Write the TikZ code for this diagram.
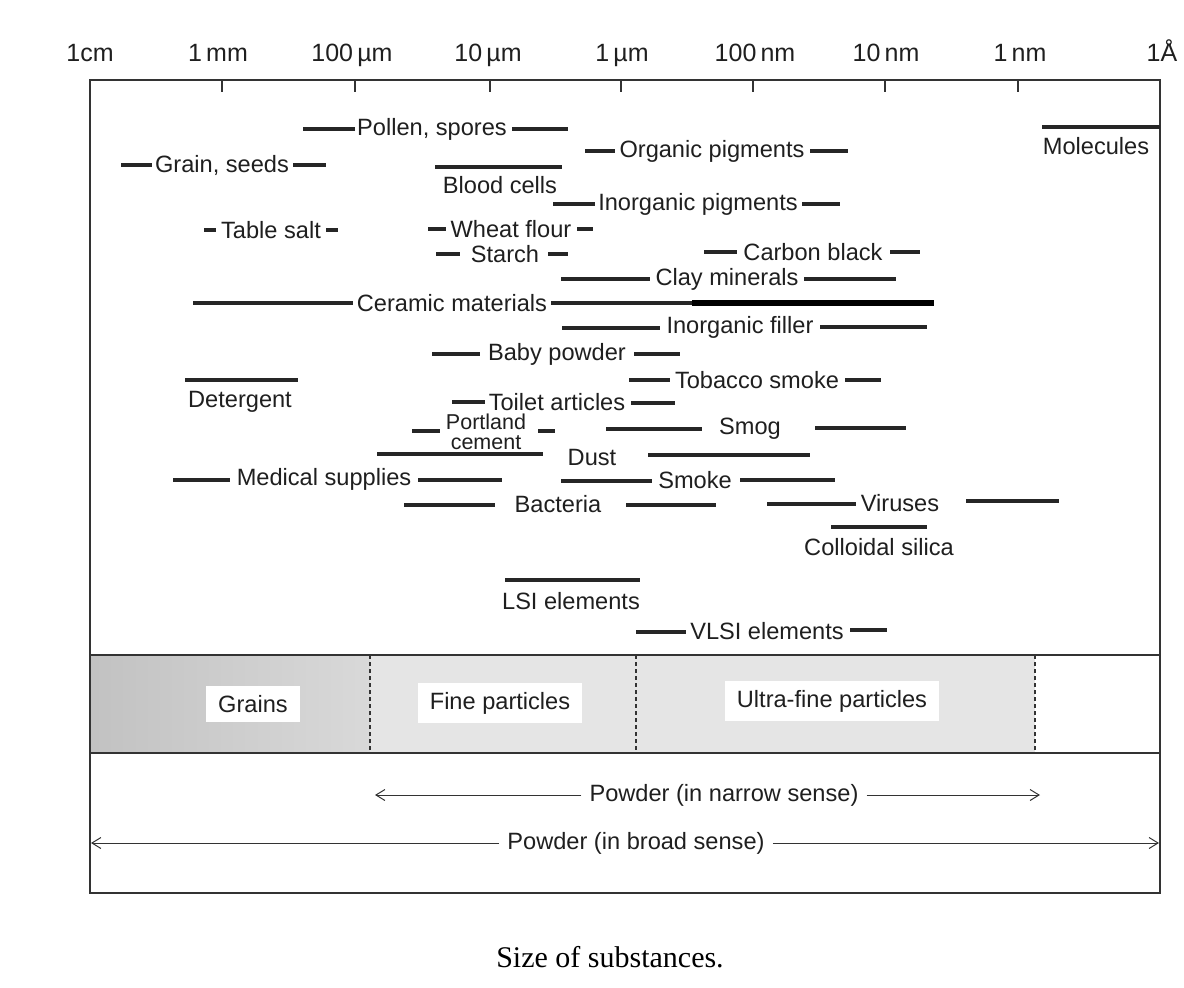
\documentclass[tikz,border=0pt]{standalone}
\usepackage{fontspec}
\usetikzlibrary{arrows.meta}
\setmainfont{Liberation Sans}
\newfontfamily\captionfont{Liberation Serif}

\begin{document}
		\begin{tikzpicture}[x=1pt,y=-1pt,
				itemtext/.style={font=\fontsize{23.6}{24}\selectfont,inner sep=0pt,text=black!88},
				scaletext/.style={font=\fontsize{25}{26}\selectfont,inner sep=0pt,anchor=base,text=black!88},
				sizebar/.style={line width=3.3pt,black!85},
				thickbar/.style={line width=5.5pt,black},
				frameline/.style={line width=1.3pt,black!80},
				classbox/.style={font=\fontsize{23.6}{24}\selectfont,fill=white,inner xsep=12pt,inner ysep=9pt,text=black!88},
				divider/.style={line width=1.8pt,dash pattern=on 4pt off 3pt,black!80},
				rangearrow/.style={line width=1pt,black!80,-{Straight Barb[length=9pt,width=11pt]}}]
			\useasboundingbox (0,0) rectangle (1184,988);
			\fill[white] (0,0) rectangle (1184,988);

			% scale
			\node[scaletext] (s0) at (90,61) {1cm};
			\node[scaletext] (s1) at (218,61) {1\,mm};
			\node[scaletext] (s2) at (352,61) {100\,µm};
			\node[scaletext] (s3) at (488,61) {10\,µm};
			\node[scaletext] (s4) at (622,61) {1\,µm};
			\node[scaletext] (s5) at (755,61) {100\,nm};
			\node[scaletext] (s6) at (886,61) {10\,nm};
			\node[scaletext] (s7) at (1020,61) {1\,nm};
			\node[scaletext] (s8) at (1162,61) {1Å};
			\foreach \tx in {222,355,490,621,753,885,1018}
				\draw[frameline] (\tx,80) -- (\tx,92);

			% band of classes
			\shade[left color=gray!48,right color=gray!30] (90,655) rectangle (370,753);
			\fill[gray!20] (370,655) rectangle (1035,753);
			\draw[divider] (370,655) -- (370,753);
			\draw[divider] (636,655) -- (636,753);
			\draw[divider] (1035,655) -- (1035,753);
			\node[classbox] (grains) at (253,704) {Grains};
			\node[classbox] (fine) at (500,703) {Fine particles};
			\node[classbox] (ultrafine) at (832,701) {Ultra-fine particles};

			% frame
			\draw[frameline] (90,80) rectangle (1160,893);
			\draw[frameline] (90,655) -- (1160,655);
			\draw[frameline] (90,753) -- (1160,753);

			% substances
			\node[itemtext] (pollen) at (432,129) {Pollen, spores};
			\draw[sizebar] (303,129) -- (355,129);
			\draw[sizebar] (512,129) -- (568,129);

			\node[itemtext] (molecules) at (1096,146) {Molecules};
			\draw[sizebar] (1042,127) -- (1160,127);

			\node[itemtext] (grain) at (222,165) {Grain, seeds};
			\draw[sizebar] (121,165) -- (152,165);
			\draw[sizebar] (293,165) -- (326,165);

			\node[itemtext] (orgpig) at (712,151) {Organic pigments};
			\draw[sizebar] (585,151) -- (615,151);
			\draw[sizebar] (810,151) -- (848,151);

			\node[itemtext] (blood) at (500,185) {Blood cells};
			\draw[sizebar] (435,167) -- (562,167);

			\node[itemtext] (inorgpig) at (698,204) {Inorganic pigments};
			\draw[sizebar] (553,204) -- (595,204);
			\draw[sizebar] (802,204) -- (840,204);

			\node[itemtext] (salt) at (271,230) {Table salt};
			\draw[sizebar] (204,230) -- (216,230);
			\draw[sizebar] (326,230) -- (338,230);

			\node[itemtext] (wheat) at (511,229) {Wheat flour};
			\draw[sizebar] (428,229) -- (446,229);
			\draw[sizebar] (577,229) -- (593,229);

			\node[itemtext] (starch) at (505,254) {Starch};
			\draw[sizebar] (436,254) -- (460,254);
			\draw[sizebar] (548,254) -- (568,254);

			\node[itemtext] (carbon) at (813,252) {Carbon black};
			\draw[sizebar] (704,252) -- (737,252);
			\draw[sizebar] (890,252) -- (920,252);

			\node[itemtext] (clay) at (727,279) {Clay minerals};
			\draw[sizebar] (561,279) -- (650,279);
			\draw[sizebar] (804,279) -- (896,279);

			\node[itemtext] (ceramic) at (452,303) {Ceramic materials};
			\draw[sizebar] (193,303) -- (353,303);
			\draw[sizebar] (551,303) -- (692,303);
			\draw[thickbar] (692,303) -- (934,303);

			\node[itemtext] (filler) at (740,327) {Inorganic filler};
			\draw[sizebar] (562,328) -- (660,328);
			\draw[sizebar] (820,327) -- (927,327);

			\node[itemtext] (baby) at (557,354) {Baby powder};
			\draw[sizebar] (432,354) -- (480,354);
			\draw[sizebar] (634,354) -- (680,354);

			\node[itemtext] (tobacco) at (757,380) {Tobacco smoke};
			\draw[sizebar] (629,380) -- (670,380);
			\draw[sizebar] (845,380) -- (881,380);

			\node[itemtext] (detergent) at (240,402) {Detergent};
			\draw[sizebar] (185,380) -- (298,380);

			\node[itemtext] (toilet) at (557,402) {Toilet articles};
			\draw[sizebar] (452,402) -- (485,402);
			\draw[sizebar] (631,403) -- (675,403);

			\node[itemtext,align=center,font=\fontsize{21.5}{20}\selectfont] (portland) at (486,432) {Portland\\cement};
			\draw[sizebar] (412,431) -- (440,431);
			\draw[sizebar] (538,431) -- (555,431);

			\node[itemtext] (smog) at (750,429) {Smog};
			\draw[sizebar] (606,429) -- (702,429);
			\draw[sizebar] (815,428) -- (906,428);

			\node[itemtext] (dust) at (592,457) {Dust};
			\draw[sizebar] (377,454) -- (543,454);
			\draw[sizebar] (648,455) -- (810,455);

			\node[itemtext] (medical) at (324,479) {Medical supplies};
			\draw[sizebar] (173,480) -- (230,480);
			\draw[sizebar] (418,480) -- (502,480);

			\node[itemtext] (smoke) at (695,480) {Smoke};
			\draw[sizebar] (561,481) -- (652,481);
			\draw[sizebar] (740,480) -- (835,480);

			\node[itemtext] (bacteria) at (558,504) {Bacteria};
			\draw[sizebar] (404,505) -- (495,505);
			\draw[sizebar] (626,505) -- (716,505);

			\node[itemtext] (viruses) at (900,503) {Viruses};
			\draw[sizebar] (767,504) -- (856,504);
			\draw[sizebar] (966,501) -- (1059,501);

			\node[itemtext] (colloidal) at (879,547) {Colloidal silica};
			\draw[sizebar] (831,527) -- (927,527);

			\node[itemtext] (lsi) at (571,601) {LSI elements};
			\draw[sizebar] (505,580) -- (640,580);

			\node[itemtext] (vlsi) at (767,631) {VLSI elements};
			\draw[sizebar] (636,632) -- (686,632);
			\draw[sizebar] (850,630) -- (887,630);

			% powder ranges
			\node[itemtext,inner xsep=8pt] (narrow) at (724,795) {Powder (in narrow sense)};
			\coordinate (narrowL) at (375,795);
			\coordinate (narrowR) at (1040,795);
			\draw[rangearrow] (narrow.west) -- (narrowL);
			\draw[rangearrow] (narrow.east) -- (narrowR);

			\node[itemtext,inner xsep=8pt] (broad) at (636,843) {Powder (in broad sense)};
			\coordinate (broadL) at (91,843);
			\coordinate (broadR) at (1159,843);
			\draw[rangearrow] (broad.west) -- (broadL);
			\draw[rangearrow] (broad.east) -- (broadR);

			\node[font=\captionfont\fontsize{30}{32}\selectfont,inner sep=0pt] (caption) at (610,957) {Size of substances.};
		\end{tikzpicture}
\end{document}
